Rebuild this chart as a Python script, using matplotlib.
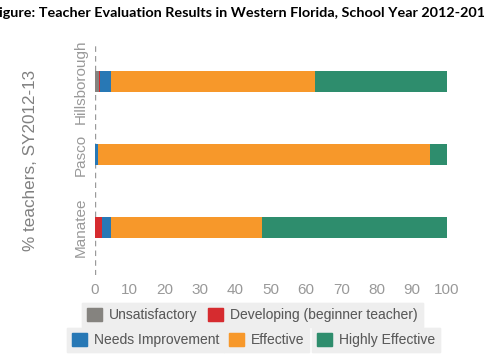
import matplotlib.pyplot as plt
import matplotlib.patches as mpatches
import numpy as np

counties = ["Manatee", "Pasco", "Hillsborough"]
levels = ["Unsatisfactory", "Developing (beginner teacher)", "Needs Improvement",
          "Effective", "Highly Effective"]
colors = ["#85837f", "#d62b2f", "#2878b5", "#f7982a", "#2e8d6d"]

# percent of teachers per level, order follows counties
unsat = np.array([0.0, 0.0, 1.3])
developing = np.array([2.2, 0.2, 0.3])
needs_imp = np.array([2.4, 0.9, 3.0])
effective = np.array([43.0, 94.2, 58.0])
highly = 100 - unsat - developing - needs_imp - effective

values = [unsat, developing, needs_imp, effective, highly]

fig = plt.figure(figsize=(4.85, 3.6), dpi=100)
ax = fig.add_axes([0.195, 0.236, 0.7264, 0.639])

y = np.arange(len(counties))
left = np.zeros(len(counties))
for vals, c, lab in zip(values, colors, levels):
    ax.barh(y, vals, left=left, height=0.29, color=c, label=lab, edgecolor="none")
    left += vals

ax.axvline(0, color="#9a9a9a", ls=(0, (4, 3)), lw=1, zorder=0)
ax.set_xlim(0, 100)
ax.set_ylim(-0.65, 2.5)
ax.set_xticks(np.arange(0, 101, 10))
ax.set_yticks(y)
ax.set_yticklabels(counties, rotation=90, va="center")
ax.tick_params(length=0, labelcolor="#999999", pad=6)
ax.tick_params(axis="x", labelsize=11)
ax.tick_params(axis="y", labelsize=11, pad=5)
for lab in ax.get_xticklabels() + ax.get_yticklabels():
    lab.set_family("Liberation Sans")
for s in ax.spines.values():
    s.set_visible(False)
ax.set_ylabel("% teachers, SY2012-13", fontsize=12.3, color="#808080",
              family="Liberation Sans")
ax.yaxis.set_label_coords(-0.161, 0.5)

fig.text(0.5, 0.965, "Figure: Teacher Evaluation Results in Western Florida, School Year 2012-2013",
         ha="center", va="center", fontsize=10.4, fontweight="bold", family="Lato")

# one grey box per legend entry
spots = [(0, 82, 315), (1, 203, 315), (2, 67, 340), (3, 224, 340), (4, 312, 340)]
for i, x0, yc in spots:
    h = mpatches.Patch(color=colors[i], label=levels[i])
    lg = fig.legend(handles=[h], loc="center left",
                    bbox_to_anchor=(x0 / 485, 1 - yc / 360),
                    frameon=True, facecolor="#eeeeee", edgecolor="#eeeeee",
                    fancybox=False, borderpad=0.35, handlelength=1.1, handleheight=1.1,
                    handletextpad=0.5, borderaxespad=0,
                    prop={"family": "Liberation Sans", "size": 10})
    for t in lg.get_texts():
        t.set_color("#5a5a5a")
    fig.add_artist(lg)

fig.savefig("out.png", dpi=100)
